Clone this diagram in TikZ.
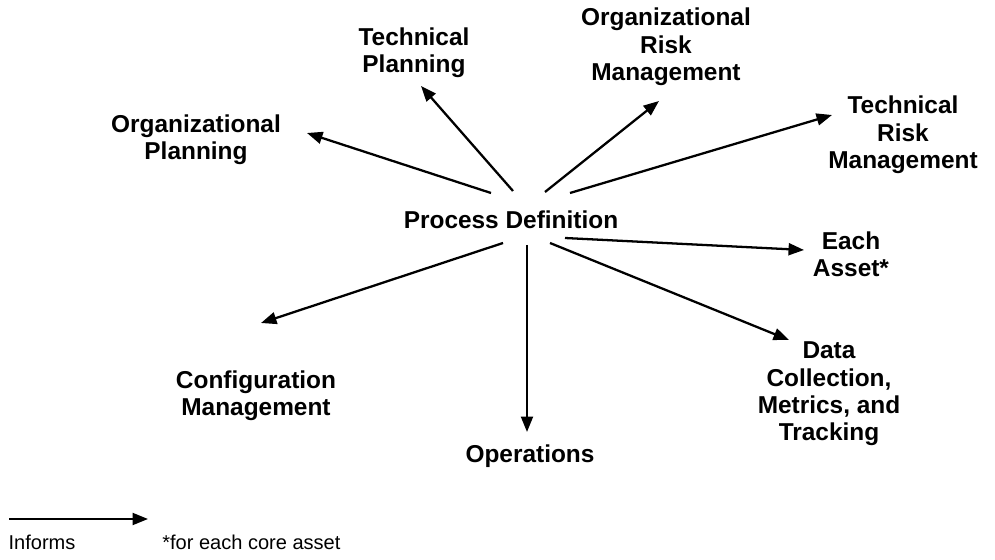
\documentclass[tikz,border=0pt]{standalone}
\usepackage{fontspec}
\setmainfont{Liberation Sans}
\usetikzlibrary{arrows.meta}
\begin{document}
\begin{tikzpicture}[x=0.02cm,y=-0.02cm,
  lbl/.style={font=\bfseries\fontsize{13.9}{15.6}\selectfont, align=center, inner sep=0pt},
  leg/.style={font=\fontsize{11.4}{13}\selectfont, inner sep=0pt},
  inf/.style={line width=1.3pt, -{Triangle[length=8.8pt,width=6.8pt]}}]
\useasboundingbox (0,0) rectangle (995,560);
\node[lbl] (pd) at (511,220) {Process Definition};
\node[lbl] (op) at (196,140) {Organizational\\Planning};
\node[lbl] (tp) at (414,53) {Technical\\Planning};
\node[lbl] (orm) at (666,47) {Organizational\\Risk\\Management};
\node[lbl] (trm) at (903,135) {Technical\\Risk\\Management};
\node[lbl] (ea) at (851,254) {Each\\Asset*};
\node[lbl] (dc) at (829,394) {Data\\Collection,\\Metrics, and\\Tracking};
\node[lbl] (ops) at (530,456) {Operations};
\node[lbl] (cm) at (256,396) {Configuration\\Management};
% connector ends
\coordinate (s1) at (491,193); \coordinate (e1) at (307,133);
\coordinate (s2) at (513,191); \coordinate (e2) at (421,86);
\coordinate (s3) at (545,192); \coordinate (e3) at (659,101);
\coordinate (s4) at (570,193); \coordinate (e4) at (832,115);
\coordinate (s5) at (565,238); \coordinate (e5) at (804,250);
\coordinate (s6) at (550,243); \coordinate (e6) at (789,340);
\coordinate (s7) at (527,245); \coordinate (e7) at (527,432);
\coordinate (s8) at (503,243); \coordinate (e8) at (261,323);
\draw[inf] (s1) -- (e1);
\draw[inf] (s2) -- (e2);
\draw[inf] (s3) -- (e3);
\draw[inf] (s4) -- (e4);
\draw[inf] (s5) -- (e5);
\draw[inf] (s6) -- (e6);
\draw[inf] (s7) -- (e7);
\draw[inf] (s8) -- (e8);
% legend
\coordinate (la) at (9,519); \coordinate (lb) at (148,519);
\draw[inf] (la) -- (lb);
\node[leg] (inflbl) at (42,542) {Informs};
\node[leg, anchor=west] (note) at (162,542) {*for each core asset};
\end{tikzpicture}
\end{document}
